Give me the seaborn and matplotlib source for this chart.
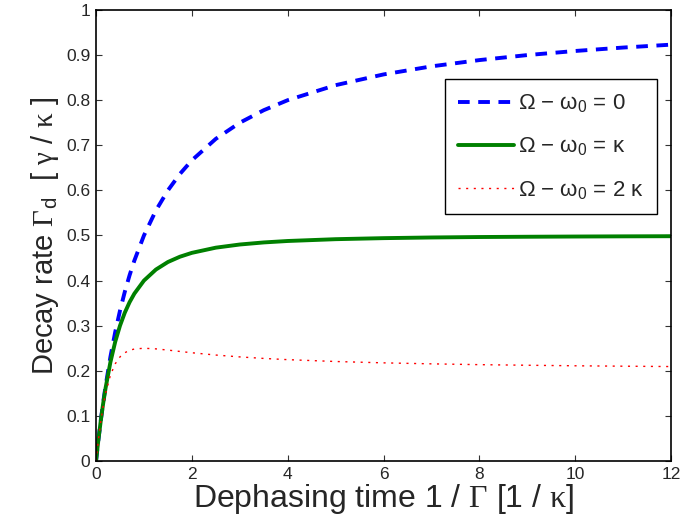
import matplotlib
matplotlib.use("Agg")
import matplotlib.pyplot as plt
import seaborn as sns
import pandas as pd

# Dephasing time 1/Gamma in units of 1/kappa
t = [0, 0.05, 0.1, 0.15, 0.2, 0.3, 0.4, 0.5, 0.6, 0.7, 0.8, 1.0, 1.25, 1.5,
     1.75, 2, 2.5, 3, 3.5, 4, 5, 6, 7, 8, 9, 10, 11, 12]
# Decay rate for detuning 0
rate_det0 = [0, 0.0476, 0.0909, 0.1304, 0.1667, 0.2308, 0.2857, 0.3333, 0.375,
             0.4118, 0.4444, 0.5, 0.5556, 0.6, 0.6364, 0.6667, 0.7143, 0.75,
             0.7778, 0.8, 0.8333, 0.8571, 0.875, 0.8889, 0.9, 0.9091, 0.9167, 0.9231]
# Decay rate for detuning kappa
rate_det1 = [0, 0.0475, 0.0902, 0.1283, 0.1622, 0.2191, 0.2642, 0.3, 0.3288,
             0.3521, 0.3711, 0.4, 0.4245, 0.4412, 0.4529, 0.4615, 0.4730, 0.48,
             0.4846, 0.4878, 0.4918, 0.4941, 0.4956, 0.4966, 0.4972, 0.4977, 0.4981, 0.4984]
# Decay rate for detuning 2 kappa
rate_det2 = [0, 0.0472, 0.088, 0.1221, 0.15, 0.1902, 0.2154, 0.2308, 0.24,
             0.2454, 0.2483, 0.25, 0.2486, 0.2459, 0.2429, 0.24, 0.2349, 0.2308,
             0.2274, 0.2247, 0.2206, 0.2176, 0.2154, 0.2136, 0.2123, 0.2111, 0.2102, 0.2094]

labels = [r"Ω − ω$_\mathsf{0}$ = 0",
          r"Ω − ω$_\mathsf{0}$ = κ",
          r"Ω − ω$_\mathsf{0}$ = 2 κ"]
xticks = [0, 2, 4, 6, 8, 10, 12]
yticks = [0, 0.1, 0.2, 0.3, 0.4, 0.5, 0.6, 0.7, 0.8, 0.9, 1]
ytick_labels = ["0", "0.1", "0.2", "0.3", "0.4", "0.5", "0.6", "0.7", "0.8", "0.9", "1"]

sns.set_style("white")
plt.rcParams["font.family"] = ["Liberation Sans", "DejaVu Sans"]
plt.rcParams["mathtext.fontset"] = "custom"
plt.rcParams["mathtext.rm"] = "Liberation Serif"
plt.rcParams["mathtext.it"] = "Liberation Serif:italic"
plt.rcParams["mathtext.sf"] = "Liberation Sans"

df = pd.DataFrame({"t": t * 3,
                   "rate": rate_det0 + rate_det1 + rate_det2,
                   "series": [labels[0]] * len(t) + [labels[1]] * len(t) + [labels[2]] * len(t)})

fig = plt.figure(figsize=(6.83, 5.28), dpi=100)
ax = fig.add_axes([0.1406, 0.1269, 0.8419, 0.8542])

styles = {labels[0]: dict(color=(0, 0, 1), lw=2.8, dashes=(3.0, 2.2)),
          labels[1]: dict(color=(0, 0.5, 0), lw=2.8, dashes=None),
          labels[2]: dict(color=(1, 0, 0), lw=1.0, dashes=(1.5, 4.0))}
for lab in labels:
    sub = df[df["series"] == lab]
    st = styles[lab]
    sns.lineplot(data=sub, x="t", y="rate", ax=ax, color=st["color"],
                 lw=st["lw"], label=lab)
    l = ax.get_lines()[-1]
    if st["dashes"] is not None:
        l.set_dashes(st["dashes"])

ax.set_xlim(0, 12)
ax.set_ylim(0, 1)
ax.set_xticks(xticks)
ax.set_xticklabels([str(v) for v in xticks])
ax.set_yticks(yticks)
ax.set_yticklabels(ytick_labels)
ax.tick_params(direction="in", length=4, width=0.8, top=True, right=True,
               bottom=True, left=True, labelsize=12.5, pad=4, color="#333333")
for s in ax.spines.values():
    s.set_visible(True)
    s.set_color("black")
    s.set_linewidth(1.2)

ax.set_xlabel(r"Dephasing time 1 / $\mathrm{\Gamma}$ [1 / $\mathrm{\kappa}$]", fontsize=23, labelpad=0)
ax.set_ylabel(r"Decay rate $\mathrm{\Gamma}_\mathsf{d}$  [ $\mathrm{\gamma}$ / $\mathrm{\kappa}$ ]", fontsize=21, labelpad=4)

leg = ax.legend(loc="upper right", bbox_to_anchor=(0.976, 0.847), fontsize=16,
                frameon=True, fancybox=False, framealpha=1, edgecolor="black",
                handlelength=2.5, handletextpad=0.2, borderpad=0.6, labelspacing=0.95,
                borderaxespad=0)
leg.get_frame().set_linewidth(1.0)

fig.savefig("out.png", dpi=100)
